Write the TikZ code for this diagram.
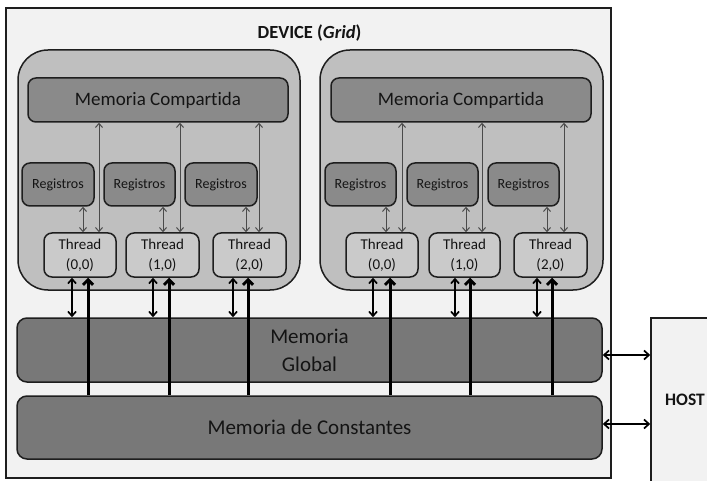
\documentclass[tikz,border=0pt]{standalone}
\usepackage{fontspec}
\setmainfont[Ligatures=NoCommon]{Carlito}
\usetikzlibrary{arrows.meta}

\definecolor{devbg}{HTML}{F2F2F2}
\definecolor{smfill}{HTML}{BFBFBF}
\definecolor{darkfill}{HTML}{8A8A8A}
\definecolor{thrfill}{HTML}{CACACA}
\definecolor{memfill}{HTML}{787878}
\definecolor{edge}{HTML}{1E1E1E}
\definecolor{arrgray}{HTML}{4A4A4A}
\definecolor{txt}{HTML}{141414}

\tikzset{
  pbox/.style={draw=edge, line width=1.5pt, inner sep=0pt, text=txt},
  smblock/.style={pbox, fill=smfill, rounded corners=30pt},
  shmem/.style={pbox, fill=darkfill, rounded corners=8pt, minimum height=44pt,
    font=\fontsize{19}{22}\selectfont},
  regbox/.style={pbox, fill=darkfill, rounded corners=8pt, minimum height=43pt,
    font=\fontsize{14}{16}\selectfont},
  thrbox/.style={pbox, fill=thrfill, rounded corners=8pt, minimum height=44pt,
    align=center, font=\fontsize{15}{20}\selectfont},
  bigmem/.style={pbox, fill=memfill, rounded corners=10pt, minimum width=585pt,
    align=center, font=\fontsize{21}{28}\selectfont},
  regarr/.style={draw=arrgray, line width=1pt, {Straight Barb[length=4pt,width=7pt]}-{Straight Barb[length=4pt,width=7pt]}},
  busarr/.style={draw=black, line width=1.7pt, {Straight Barb[length=4.5pt,width=8pt]}-{Straight Barb[length=4.5pt,width=8pt]}},
  constarr/.style={draw=black, line width=3pt, -{Straight Barb[length=5pt,width=10pt]}},
  hostarr/.style={draw=black, line width=1.7pt, {Straight Barb[length=5pt,width=9pt]}-{Straight Barb[length=5pt,width=9pt]}},
}

\begin{document}
\begin{tikzpicture}[x=1pt,y=-1pt]
\useasboundingbox (0,0) rectangle (707,481);

% device frame and host
\node[pbox, fill=devbg, minimum width=605pt, minimum height=470pt] (device) at (308.5,243) {};
\node[font=\bfseries\fontsize{18.5}{22}\selectfont, text=txt] (title) at (309.5,33) {DEVICE (\textit{Grid})};
\node[pbox, fill=devbg, minimum width=70pt, minimum height=175pt] (host) at (686,405.5) {};
\node[font=\bfseries\fontsize{17.5}{20}\selectfont, text=txt] (hosttxt) at (685,400) {HOST};

% two multiprocessor blocks
\node[smblock, minimum width=282pt, minimum height=240pt] (smL) at (159,170) {};
\node[smblock, minimum width=283pt, minimum height=240pt] (smR) at (461.5,170) {};
\node[shmem, minimum width=260pt] (mcL) at (158,100) {Memoria Compartida};
\node[shmem, minimum width=260pt] (mcR) at (461,100) {Memoria Compartida};

% global and constant memories
\node[bigmem, minimum height=64pt] (glob) at (309.5,350) {Memoria\\Global};
\node[bigmem, minimum height=63pt] (const) at (309.5,427.5) {Memoria de Constantes};

% host links
\coordinate (hy1) at (0,355);
\coordinate (hy2) at (0,424);
\draw[hostarr] (glob.east |- hy1) -- (host.west |- hy1);
\draw[hostarr] (const.east |- hy2) -- (host.west |- hy2);

% threads, registers and their links
\foreach \n/\i/\xa/\xb/\ra/\rb/\rx/\sx/\gx/\cx/\mc in {
  1/0/44/116/22/94/83/99/72/88/mcL,
  2/1/126/199/104/175/163/180/153/169/mcL,
  3/2/213/286/185/257/246/259/233/248/mcL,
  4/0/346/418/325/396/386/402/373/390/mcR,
  5/1/429/500/407/478/466/482/455/470/mcR,
  6/2/514/587/488/559/547/564/537/552/mcR}{
  \node[regbox, minimum width={(\rb-\ra)*1pt}] (r\n) at ({(\ra+\rb)/2},184.5) {Registros};
  \node[thrbox, minimum width={(\xb-\xa)*1pt}] (t\n) at ({(\xa+\xb)/2},255) {Thread\\(\i,0)};
  \coordinate (xr\n) at (\rx,0);
  \coordinate (xs\n) at (\sx,0);
  \coordinate (xg\n) at (\gx,0);
  \coordinate (xc\n) at (\cx,0);
  \draw[regarr] (r\n.south -| xr\n) -- (t\n.north -| xr\n);
  \draw[regarr] (\mc.south -| xs\n) -- (t\n.north -| xs\n);
  \draw[busarr] (t\n.south -| xg\n) -- (glob.north -| xg\n);
  \draw[constarr] (const.north -| xc\n) -- (t\n.south -| xc\n);
}
\end{tikzpicture}
\end{document}
